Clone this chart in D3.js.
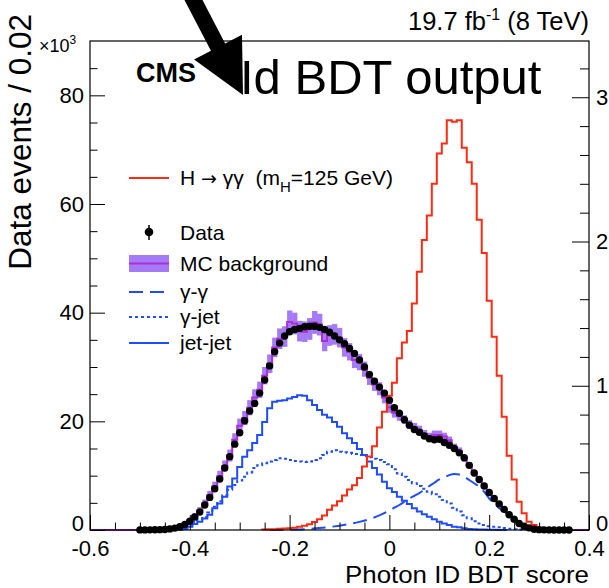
<!DOCTYPE html>
<html>
<head>
<meta charset="utf-8">
<script src="https://cdn.jsdelivr.net/npm/d3@7"></script>
<style>
  html, body { margin: 0; padding: 0; background: #fff; }
  svg { display: block; }
  text { font-family: "Liberation Sans", Arial, Helvetica, sans-serif; fill: #000; }
</style>
</head>
<body>
<svg id="chart" width="609" height="588"></svg>
<script>
// ---- binning (photon ID BDT score, bin width 0.01) ----
const binWidth = 0.01;
const dataStart = -0.50;   // centre of first data / MC bin
const sigStart = -0.25;    // centre of first signal bin
const jjStart = -0.42;     // jet-jet
const gjStart = -0.41;     // gamma-jet

// Data events (x10^3)
const dataValues = [
  0.02, 0.02, 0.03, 0.04, 0.06, 0.1, 0.2, 0.35, 0.6, 1.0,
  1.6, 2.4, 3.3, 4.6, 6.0, 7.6, 9.4, 11.4, 13.5, 15.8,
  17.9, 20.1, 21.9, 23.3, 25.2, 27.6, 30.2, 32.8, 34.4, 35.7,
  36.5, 36.9, 37.1, 37.4, 37.5, 37.5, 37.3, 36.9, 36.4, 35.7,
  35.0, 34.3, 33.4, 32.5, 31.3, 30.0, 28.6, 27.4, 26.3, 25.2,
  23.9, 22.5, 21.5, 20.3, 19.3, 18.5, 18.0, 17.3, 16.8, 16.6,
  16.7, 16.1, 15.6, 15.0, 14.2, 13.3, 11.9, 10.5, 9.3, 8.1,
  6.9, 5.8, 4.8, 3.8, 2.8, 2.0, 1.2, 0.7, 0.4, 0.15,
  0.06, 0.03, 0.02, 0.01, 0.01, 0.01, 0.01
];
const dataErrors = dataValues.map(v => Math.sqrt(v * 1000) * 2 / 1000);

// MC background (x10^3) and its uncertainty band half-width
const mcValues = [
  0.02, 0.02, 0.03, 0.04, 0.07, 0.12, 0.22, 0.4, 0.7, 1.1,
  1.7, 2.6, 3.6, 4.9, 6.4, 8.0, 9.9, 11.8, 13.7, 16.6,
  19.2, 20.6, 22.5, 24.4, 25.8, 28.4, 30.6, 33.6, 35.2, 35.6,
  38.3, 38.0, 36.6, 36.5, 37.0, 38.2, 37.8, 34.8, 35.8, 36.0,
  35.4, 33.6, 32.8, 31.3, 30.9, 29.6, 28.0, 26.8, 26.0, 24.4,
  22.6, 21.6, 21.0, 20.3, 19.4, 18.9, 18.4, 17.7, 17.2, 17.5,
  17.5, 17.2, 16.5, 15.3, 14.6, 13.2, 12.0, 10.4, 9.2, 8.0,
  6.8, 5.6, 4.6, 3.6, 2.7, 1.9, 1.2, 0.7, 0.4, 0.15,
  0.06, 0.03, 0.02, 0.01, 0.01, 0.01, 0.01
];
const mcErrors = [
  0.01, 0.01, 0.01, 0.02, 0.03, 0.05, 0.08, 0.12, 0.2, 0.3,
  0.4, 0.5, 0.6, 0.7, 0.8, 0.9, 1.0, 1.0, 1.1, 1.2,
  1.3, 1.3, 1.4, 1.5, 1.5, 1.6, 1.7, 1.8, 1.9, 1.9,
  2.1, 2.0, 1.9, 1.9, 2.0, 2.1, 2.0, 1.9, 1.9, 1.9,
  1.8, 1.7, 1.6, 1.5, 1.5, 1.4, 1.3, 1.2, 1.2, 1.1,
  1.0, 0.9, 0.9, 0.8, 0.8, 0.8, 0.8, 0.7, 0.7, 0.8,
  0.8, 0.7, 0.7, 0.6, 0.6, 0.6, 0.5, 0.5, 0.4, 0.4,
  0.3, 0.3, 0.3, 0.2, 0.2, 0.15, 0.1, 0.08, 0.05, 0.03,
  0.02, 0.01, 0.01, 0.01, 0.01, 0.01, 0.01
];

// H -> gamma gamma signal (right-hand axis, arbitrary units)
const signalValues = [
  0.004, 0.005, 0.006, 0.008, 0.010, 0.012, 0.016, 0.022, 0.030, 0.040,
  0.055, 0.075, 0.10, 0.14, 0.17, 0.20, 0.24, 0.28, 0.31, 0.36,
  0.44, 0.51, 0.58, 0.71, 0.82, 0.93, 1.02, 1.19, 1.30, 1.38,
  1.57, 1.79, 2.01, 2.18, 2.40, 2.61, 2.68, 2.84, 2.83, 2.84,
  2.65, 2.55, 2.40, 2.15, 1.92, 1.59, 1.34, 1.07, 0.785, 0.515,
  0.35, 0.196, 0.116, 0.058, 0.035, 0.018, 0.010, 0.006, 0.004, 0.003
];

// jet-jet component (x10^3)
const jetjetValues = [
  0.05, 0.2, 0.6, 1.1, 1.5, 2.1, 2.8, 4.0, 4.9, 6.1,
  8.0, 9.5, 11.6, 13.5, 14.7, 16.0, 17.5, 19.9, 22.4, 23.6,
  23.8, 23.9, 24.2, 24.5, 24.8, 24.7, 23.9, 23.0, 22.1, 21.2,
  20.7, 19.9, 19.0, 17.8, 16.9, 16.0, 14.9, 13.8, 12.6, 11.4,
  10.2, 8.9, 7.7, 7.0, 6.1, 5.4, 4.8, 4.0, 3.4, 2.9,
  2.45, 2.0, 1.5, 1.2, 0.9, 0.6, 0.5, 0.3, 0.2, 0.15,
  0.1, 0.07, 0.05, 0.03, 0.02, 0.01
];

// gamma-jet component (x10^3)
const gammajetValues = [
  0.3, 0.7, 1.5, 2.0, 2.4, 3.2, 4.3, 5.3, 6.4, 7.4,
  8.3, 9.1, 9.8, 10.6, 11.4, 11.9, 12.3, 12.6, 12.9, 13.2,
  13.1, 12.9, 12.7, 12.6, 12.5, 12.6, 12.9, 13.2, 13.8, 14.4,
  14.7, 14.4, 14.3, 14.2, 14.0, 13.8, 13.6, 13.4, 13.1, 12.9,
  12.5, 12.1, 11.2, 10.4, 9.8, 9.2, 8.6, 8.1, 7.6, 7.05,
  6.6, 6.1, 5.5, 4.9, 4.1, 3.4, 2.7, 2.15, 1.6, 1.2,
  0.9, 0.7, 0.6, 0.5, 0.35, 0.25, 0.15, 0.1, 0.05
];

// gamma-gamma component (x10^3), smooth curve
const ggScores = [
  -0.24, -0.22, -0.20, -0.18, -0.16, -0.14, -0.12, -0.10, -0.08, -0.06,
  -0.04, -0.02, 0.00, 0.01, 0.02, 0.03, 0.04, 0.05, 0.06, 0.07,
  0.08, 0.09, 0.10, 0.11, 0.12, 0.13, 0.14, 0.15, 0.16, 0.17,
  0.18, 0.19, 0.20, 0.21, 0.22, 0.23, 0.24, 0.25, 0.26, 0.27,
  0.28, 0.29, 0.30
];
const ggValues = [
  0.0, 0.02, 0.05, 0.1, 0.2, 0.35, 0.55, 0.8, 1.1, 1.5,
  2.0, 2.7, 3.6, 4.1, 4.6, 5.2, 5.8, 6.3, 6.8, 7.4,
  8.1, 8.7, 9.3, 9.7, 10.1, 10.3, 10.2, 9.8, 9.2, 8.6,
  8.0, 7.0, 5.8, 4.9, 4.0, 3.4, 2.6, 1.6, 1.0, 0.5,
  0.2, 0.08, 0.02
];

// axis ticks
const xMajorTicks = [-0.6, -0.4, -0.2, 0, 0.2, 0.4];
const yLeftMajorTicks = [0, 20, 40, 60, 80];
const yRightMajorTicks = [0, 1, 2, 3];

// ---- layout ----
const svg = d3.select("#chart");
const frame = { left: 90, right: 589, top: 41, bottom: 530 };
const font = '"Liberation Sans", Arial, Helvetica, sans-serif';
const tickFont = 22;

const x = d3.scaleLinear().domain([-0.6, 0.4]).range([frame.left, frame.right]);
const yL = d3.scaleLinear().domain([0, 90]).range([frame.bottom, frame.top]);
const yR = d3.scaleLinear().domain([0, 3.39]).range([frame.bottom, frame.top]);

const colors = {
  signal: "#ff2a12",
  comp: "#1f4cff",
  mcLine: "#b02cd4",
  mcBand: "#a57af6"
};

const centres = (start, n) => d3.range(n).map(i => +(start + i * binWidth).toFixed(3));

// step outline of a histogram, starting and ending at zero
function stepPath(cs, vals, yScale, padTo) {
  const p = d3.path();
  const x0 = padTo ? padTo[0] : cs[0] - binWidth / 2;
  p.moveTo(x(x0), yScale(0));
  if (padTo) p.lineTo(x(cs[0] - binWidth / 2), yScale(0));
  cs.forEach((c, i) => {
    p.lineTo(x(c - binWidth / 2), yScale(vals[i]));
    p.lineTo(x(c + binWidth / 2), yScale(vals[i]));
  });
  p.lineTo(x(cs[cs.length - 1] + binWidth / 2), yScale(0));
  if (padTo) p.lineTo(x(padTo[1]), yScale(0));
  return p.toString();
}

const plot = svg.append("g");

// MC uncertainty band
const mcCentres = centres(dataStart, mcValues.length);
plot.append("g").selectAll("rect").data(mcCentres).join("rect")
  .attr("x", c => x(c - binWidth / 2))
  .attr("width", c => x(c + binWidth / 2) - x(c - binWidth / 2) + 0.3)
  .attr("y", (c, i) => yL(mcValues[i] + mcErrors[i]))
  .attr("height", (c, i) => yL(mcValues[i] - mcErrors[i]) - yL(mcValues[i] + mcErrors[i]))
  .attr("fill", colors.mcBand);

// MC central value
plot.append("path")
  .attr("d", stepPath(mcCentres, mcValues, yL, [-0.6, 0.4]))
  .attr("fill", "none").attr("stroke", colors.mcLine).attr("stroke-width", 2);

// gamma-gamma
plot.append("path")
  .attr("d", d3.line().x((d, i) => x(ggScores[i])).y(d => yL(d)).curve(d3.curveMonotoneX)(ggValues))
  .attr("fill", "none").attr("stroke", colors.comp).attr("stroke-width", 2)
  .attr("stroke-dasharray", "14,7");

// gamma-jet
plot.append("path")
  .attr("d", stepPath(centres(gjStart, gammajetValues.length), gammajetValues, yL))
  .attr("fill", "none").attr("stroke", colors.comp).attr("stroke-width", 2)
  .attr("stroke-dasharray", "3,3");

// jet-jet
plot.append("path")
  .attr("d", stepPath(centres(jjStart, jetjetValues.length), jetjetValues, yL))
  .attr("fill", "none").attr("stroke", colors.comp).attr("stroke-width", 2);

// signal
plot.append("path")
  .attr("d", stepPath(centres(sigStart, signalValues.length), signalValues, yR))
  .attr("fill", "none").attr("stroke", colors.signal).attr("stroke-width", 2);

// data points
const dataCentres = centres(dataStart, dataValues.length);
const pts = plot.append("g");
pts.selectAll("line").data(dataCentres).join("line")
  .attr("x1", c => x(c)).attr("x2", c => x(c))
  .attr("y1", (c, i) => yL(dataValues[i] + dataErrors[i]))
  .attr("y2", (c, i) => yL(Math.max(0, dataValues[i] - dataErrors[i])))
  .attr("stroke", "#000").attr("stroke-width", 1);
pts.selectAll("circle").data(dataCentres).join("circle")
  .attr("cx", c => x(c)).attr("cy", (c, i) => yL(dataValues[i]))
  .attr("r", 3.7).attr("fill", "#000");

// ---- axes ----
const tickFmt = d => d === 0 ? "0" : d3.format(".1f")(d).replace("\u2212", "-");

const xAxis = svg.append("g").attr("transform", `translate(0,${frame.bottom})`)
  .call(d3.axisBottom(x).tickValues(xMajorTicks).tickSizeInner(-15).tickSizeOuter(0)
    .tickPadding(0).tickFormat(tickFmt));
svg.append("g").attr("transform", `translate(0,${frame.bottom})`)
  .call(d3.axisBottom(x).tickValues(d3.range(-0.55, 0.4, 0.05).filter(v => Math.abs(v * 5 - Math.round(v * 5)) > 1e-6))
    .tickSizeInner(-7.5).tickSizeOuter(0).tickFormat(""));

const yAxisL = svg.append("g").attr("transform", `translate(${frame.left},0)`)
  .call(d3.axisLeft(yL).tickValues(yLeftMajorTicks).tickSizeInner(-15).tickSizeOuter(0)
    .tickPadding(6).tickFormat(d3.format("d")));
svg.append("g").attr("transform", `translate(${frame.left},0)`)
  .call(d3.axisLeft(yL).tickValues(d3.range(5, 90, 5).filter(v => v % 20 !== 0))
    .tickSizeInner(-7.5).tickSizeOuter(0).tickFormat(""));

const yAxisR = svg.append("g").attr("transform", `translate(${frame.right},0)`)
  .call(d3.axisRight(yR).tickValues(yRightMajorTicks).tickSizeInner(-17).tickSizeOuter(0)
    .tickPadding(7).tickFormat(d3.format("d")));
svg.append("g").attr("transform", `translate(${frame.right},0)`)
  .call(d3.axisRight(yR).tickValues(d3.range(0.2, 3.39, 0.2).filter(v => Math.abs(v - Math.round(v)) > 1e-6))
    .tickSizeInner(-9).tickSizeOuter(0).tickFormat(""));

svg.selectAll(".domain").remove();
svg.selectAll(".tick line").attr("stroke", "#000").attr("stroke-width", 1);
svg.selectAll(".tick text").attr("font-family", font).attr("font-size", tickFont).attr("fill", "#000");
// x labels: baseline 25.5px below the axis
xAxis.selectAll(".tick text").attr("y", 25.5).attr("dy", null);
// vertical-axis labels centred on their ticks; the zeros sit a touch higher to clear the x labels
yAxisR.selectAll(".tick text").attr("dy", d => d === 0 ? "0.5px" : "0.32em");
yAxisL.selectAll(".tick text").attr("dy", d => d === 0 ? "0.5px" : "0.32em");

// frame
svg.append("rect")
  .attr("x", frame.left).attr("y", frame.top)
  .attr("width", frame.right - frame.left).attr("height", frame.bottom - frame.top)
  .attr("fill", "none").attr("stroke", "#000").attr("stroke-width", 1.2);

// ---- titles ----
svg.append("text")
  .attr("x", frame.right).attr("y", 582.5).attr("text-anchor", "end")
  .attr("font-size", 24.5).attr("textLength", 244).attr("lengthAdjust", "spacingAndGlyphs")
  .text("Photon ID BDT score");

svg.append("text")
  .attr("transform", `translate(31,14) rotate(-90)`)
  .attr("text-anchor", "end").attr("font-size", 31.5).text("Data events / 0.02");

const mult = svg.append("text").attr("x", 39).attr("y", 52).attr("font-size", 18);
mult.append("tspan").text("\u00d710");
mult.append("tspan").attr("font-size", 12).attr("dy", -8).text("3");

const lumi = svg.append("text").attr("x", frame.right).attr("y", 30)
  .attr("text-anchor", "end").attr("font-size", 25.5);
lumi.append("tspan").text("19.7 fb");
lumi.append("tspan").attr("font-size", 16).attr("dy", -10).text("-1");
lumi.append("tspan").attr("dy", 10).text(" (8 TeV)");

svg.append("text").attr("x", 136).attr("y", 82)
  .attr("font-size", 27).attr("font-weight", "bold").text("CMS");

svg.append("text").attr("x", 240).attr("y", 94)
  .attr("font-size", 49).text("Id BDT output");

// arrow pointing at the title
(function drawArrow() {
  const tail = [182, -22], tip = [243, 95];
  const dx = tip[0] - tail[0], dy = tip[1] - tail[1];
  const len = Math.hypot(dx, dy);
  const ux = dx / len, uy = dy / len, nx = -uy, ny = ux;
  const shaftHalf = 8, headHalf = 27, headLen = 54;
  const bx = tip[0] - ux * headLen, by = tip[1] - uy * headLen;
  const pts = [
    [tail[0] + nx * shaftHalf, tail[1] + ny * shaftHalf],
    [bx + nx * shaftHalf, by + ny * shaftHalf],
    [bx + nx * headHalf, by + ny * headHalf],
    tip,
    [bx - nx * headHalf, by - ny * headHalf],
    [bx - nx * shaftHalf, by - ny * shaftHalf],
    [tail[0] - nx * shaftHalf, tail[1] - ny * shaftHalf]
  ];
  svg.append("path").attr("d", d3.line()(pts) + "Z").attr("fill", "#000");
})();

// ---- legend ----
const lg = svg.append("g");
const lx0 = 129, lx1 = 169, ltx = 180, lfs = 21;

lg.append("line").attr("x1", lx0).attr("x2", lx1).attr("y1", 178).attr("y2", 178)
  .attr("stroke", colors.signal).attr("stroke-width", 2);
const sigText = lg.append("text").attr("x", ltx).attr("y", 185).attr("font-size", lfs)
  .style("white-space", "pre");
sigText.append("tspan").text("H ");
sigText.append("tspan").attr("font-family", "'DejaVu Sans', sans-serif").attr("font-size", 19).text("\u2192");
sigText.append("tspan").text(" \u03b3\u03b3  (m");
sigText.append("tspan").attr("font-size", 15).attr("dy", 7).text("H");
sigText.append("tspan").attr("dy", -7).text("=125 GeV)");

lg.append("line").attr("x1", 149).attr("x2", 149).attr("y1", 225).attr("y2", 240)
  .attr("stroke", "#000").attr("stroke-width", 1.5);
lg.append("circle").attr("cx", 149).attr("cy", 232).attr("r", 4.3).attr("fill", "#000");
lg.append("text").attr("x", ltx).attr("y", 240).attr("font-size", lfs).text("Data");

lg.append("rect").attr("x", lx0).attr("y", 255).attr("width", lx1 - lx0).attr("height", 17)
  .attr("fill", colors.mcBand);
lg.append("line").attr("x1", lx0).attr("x2", lx1).attr("y1", 263.5).attr("y2", 263.5)
  .attr("stroke", colors.mcLine).attr("stroke-width", 2);
lg.append("text").attr("x", ltx).attr("y", 271).attr("font-size", lfs).text("MC background");

const compEntries = [
  { label: "\u03b3-\u03b3", dash: "14,7", y: 292 },
  { label: "\u03b3-jet", dash: "3,3", y: 317 },
  { label: "jet-jet", dash: null, y: 343 }
];
compEntries.forEach(e => {
  lg.append("line").attr("x1", lx0).attr("x2", lx1).attr("y1", e.y).attr("y2", e.y)
    .attr("stroke", colors.comp).attr("stroke-width", 2)
    .attr("stroke-dasharray", e.dash);
  lg.append("text").attr("x", ltx).attr("y", e.y + 7).attr("font-size", lfs).text(e.label);
});
</script>
</body>
</html>
